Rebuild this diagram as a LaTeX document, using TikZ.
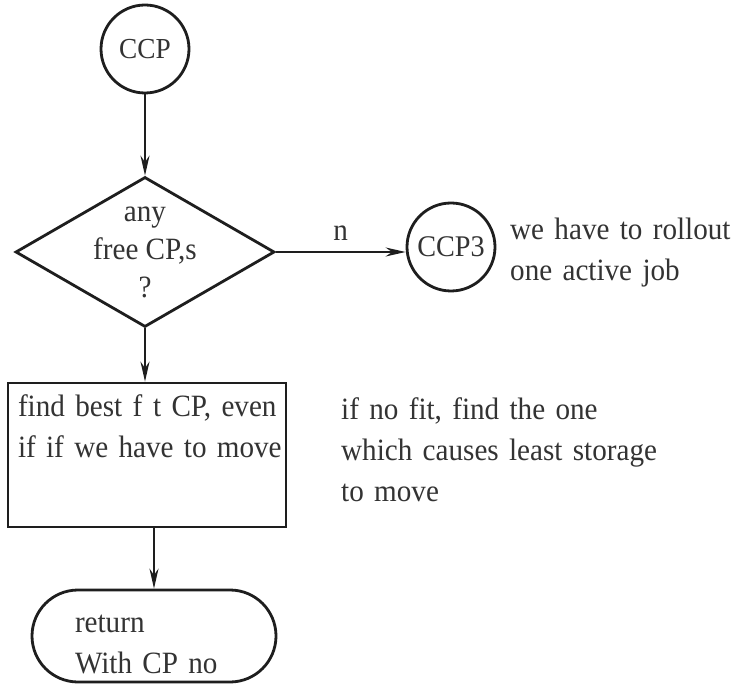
\documentclass[tikz,border=0pt]{standalone}
\usepackage{fontspec}
\setmainfont[FakeStretch=0.94]{Liberation Serif}
\definecolor{flowInk}{HTML}{1E1E1E}
\definecolor{flowText}{HTML}{333333}
\usetikzlibrary{arrows.meta, positioning, shapes.geometric}

\begin{document}
\begin{tikzpicture}[x=1pt, y=-1pt,
    font=\fontsize{31}{41}\selectfont, text=flowText,
    outline/.style={draw=flowInk, line width=2.8pt},
    flow/.style={draw=flowInk, line width=1.8pt, -{Stealth[length=20pt, width=9pt]}},
    connect/.style={outline, circle, inner sep=0pt, minimum size=88pt, font=\fontsize{29}{32}\selectfont},
    decision/.style={outline, diamond, inner sep=0pt, minimum width=259pt, minimum height=150pt},
    procbox/.style={outline, rectangle, text width=258pt, align=left, inner xsep=10pt, inner ysep=0pt, text height=34pt, text depth=110pt},
    terminal/.style={outline, rectangle, rounded corners=46pt, minimum width=244pt, text width=158pt, align=left, inner ysep=0pt, text height=42pt, text depth=50pt},
    remark/.style={anchor=base west, inner sep=0pt, align=left}]
  \useasboundingbox[fill=white] (0,0) rectangle (739,684);

  % Entry and test
  \node[connect] (ccp) at (145,49) {CCP};
  \node[decision, label={[align=center, font=\fontsize{31}{38}\selectfont]center:any\\free CP,s\\?}] (free) at (145,252) {};

  % No free CP
  \node[connect, font=\fontsize{30}{32}\selectfont] (ccp3) at (451,247) {CCP3};
  \node[remark, text width=225pt] (rollnote) at (510,240) {\mbox{we have to rollout}\\one active job};

  % Fit search
  \node[procbox] (bestfit) at (147,455) {\mbox{find best f\hspace{0.35em}t CP, even}\\\mbox{if if we have to move}};
  \node[remark, text width=340pt] (fitnote) at (341,420) {if no fit, find the one\\which causes least storage\\to move};

  % Return
  \node[terminal] (ret) at (154,636) {return\\With CP no};

  % Arrows
  \draw[flow] (ccp) -- (free);
  \draw[flow] (free.east) -- node[above=7pt] (nmark) {n} (free.east -| ccp3.west);
  \draw[flow] (free) -- (free |- bestfit.north);
  \draw[flow] (ret.north |- bestfit.south) -- (ret.north);
\end{tikzpicture}
\end{document}
